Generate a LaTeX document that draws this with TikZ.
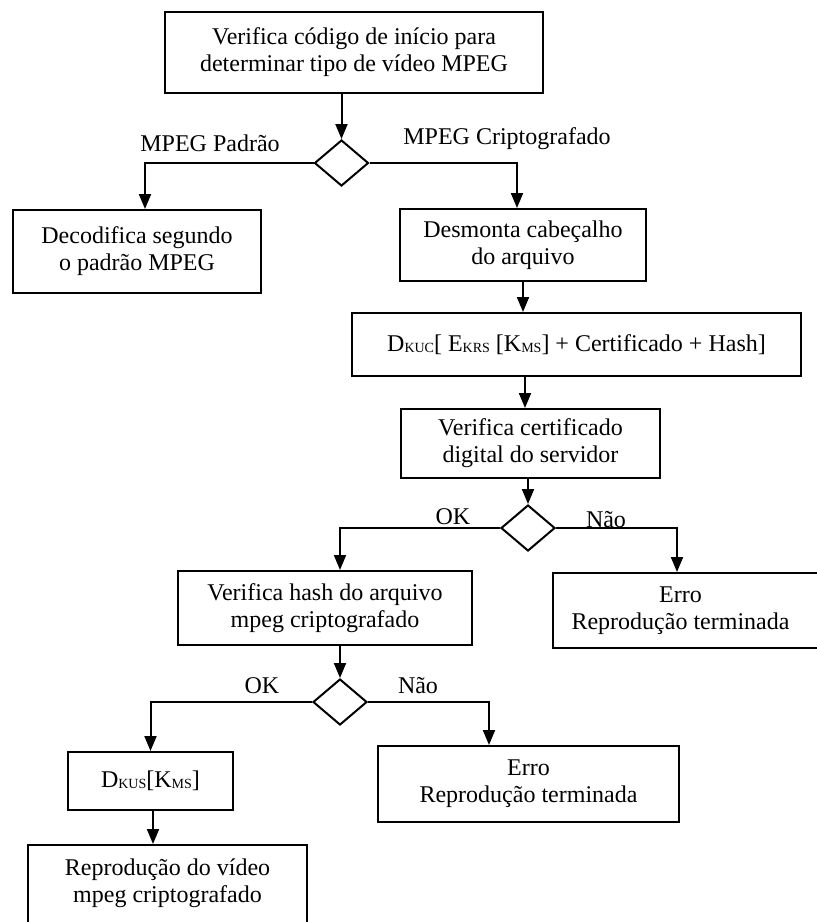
\documentclass[tikz,border=0pt]{standalone}
\usepackage{fontspec}
\setmainfont{Liberation Serif}
\usetikzlibrary{arrows.meta,shapes.geometric,positioning}
\newcommand{\sbs}[1]{\raisebox{-0.6pt}{\fontsize{7}{7}\selectfont #1}}
\begin{document}
\begin{tikzpicture}[x=0.5pt,y=-0.5pt,
  every node/.style={font=\fontsize{12}{13.5}\selectfont},
  box/.style={draw, line width=1pt, align=center, inner sep=0pt},
  dec/.style={draw, line width=1pt, shape=diamond, inner sep=0pt, minimum width=27pt, minimum height=23pt},
  arr/.style={line width=1pt, -{Triangle[length=7.5pt,width=6pt]}},
  lbl/.style={anchor=base, inner sep=0pt}]
\useasboundingbox (0,0) rectangle (817,922);
\clip (0,0) rectangle (817,922);
% boxes
\node[box, minimum width=189pt, minimum height=40.5pt] (top) at (354,52.5) {Verifica código de início para\\determinar tipo de vídeo MPEG};
\node[box, minimum width=124pt, minimum height=41.5pt] (decd) at (137,251.5) {Decodifica segundo\\o padrão MPEG};
\node[box, minimum width=123pt, minimum height=36pt] (des) at (523,245) {Desmonta cabeçalho\\do arquivo};
\node[box, minimum width=224.5pt, minimum height=31.5pt] (dkuc) at (576.5,344.5) {D\sbs{KUC}[ E\sbs{KRS} [K\sbs{MS}] + Certificado + Hash]};
\node[box, minimum width=129.5pt, minimum height=34.5pt] (vcert) at (530.5,443.5) {Verifica certificado\\digital do servidor};
\node[box, minimum width=147pt, minimum height=37pt] (vhash) at (325,608) {Verifica hash do arquivo\\mpeg criptografado};
\node[box, minimum width=133pt, minimum height=37.5pt] (erro1) at (686,610.5) {\phantom{X}};
\node[align=center, inner sep=0pt] (erro1t) at (680.5,610.5) {Erro\\Reprodução terminada};
\node[box, minimum width=82.5pt, minimum height=29pt] (dkus) at (150.5,781) {D\sbs{KUS}[K\sbs{MS}]};
\node[box, minimum width=150.5pt, minimum height=38pt] (erro2) at (528.5,784) {Erro\\Reprodução terminada};
\node[box, minimum width=139.5pt, minimum height=40pt] (repro) at (167.5,885) {\phantom{X}};
\node[align=center, inner sep=0pt] (reprot) at (167.5,883.5) {Reprodução do vídeo\\mpeg criptografado};
% diamonds
\node[dec] (d1) at (341.5,163) {};
\node[dec] (d2) at (528,528) {};
\node[dec] (d3) at (340,702) {};
% labels
\node[lbl] (l1) at (210,151) {MPEG Padrão};
\node[lbl] (l2) at (507,144) {MPEG Criptografado};
\node[lbl] (l3) at (453,524) {OK};
\node[lbl] (l4) at (606,527) {Não};
\node[lbl] (l5) at (262,693) {OK};
\node[lbl] (l6) at (418,693) {Não};
% connectors
\draw[arr] (top.south -| d1.north) -- (d1.north);
\draw[arr] (d1.west) -| ([xshift=4pt]decd.north);
\draw[arr] (d1.east) -| ([xshift=-3pt]des.north);
\draw[arr] (des.south) -- (des.south |- dkuc.north);
\draw[arr] ([xshift=-2.75pt]vcert.north |- dkuc.south) -- ([xshift=-2.75pt]vcert.north);
\draw[arr] (vcert.south -| d2.north) -- (d2.north);
\draw[arr] (d2.west) -| ([xshift=7.5pt]vhash.north);
\draw[arr] (d2.east) -| ([xshift=-4.5pt]erro1.north);
\draw[arr] (vhash.south -| d3.north) -- (d3.north);
\draw[arr] (d3.west) -| (dkus.north);
\draw[arr] (d3.east) -| ([xshift=-19.75pt]erro2.north);
\draw[arr] ([xshift=1.25pt]dkus.south) -- ([xshift=1.25pt]dkus.south |- repro.north);
\end{tikzpicture}
\end{document}
